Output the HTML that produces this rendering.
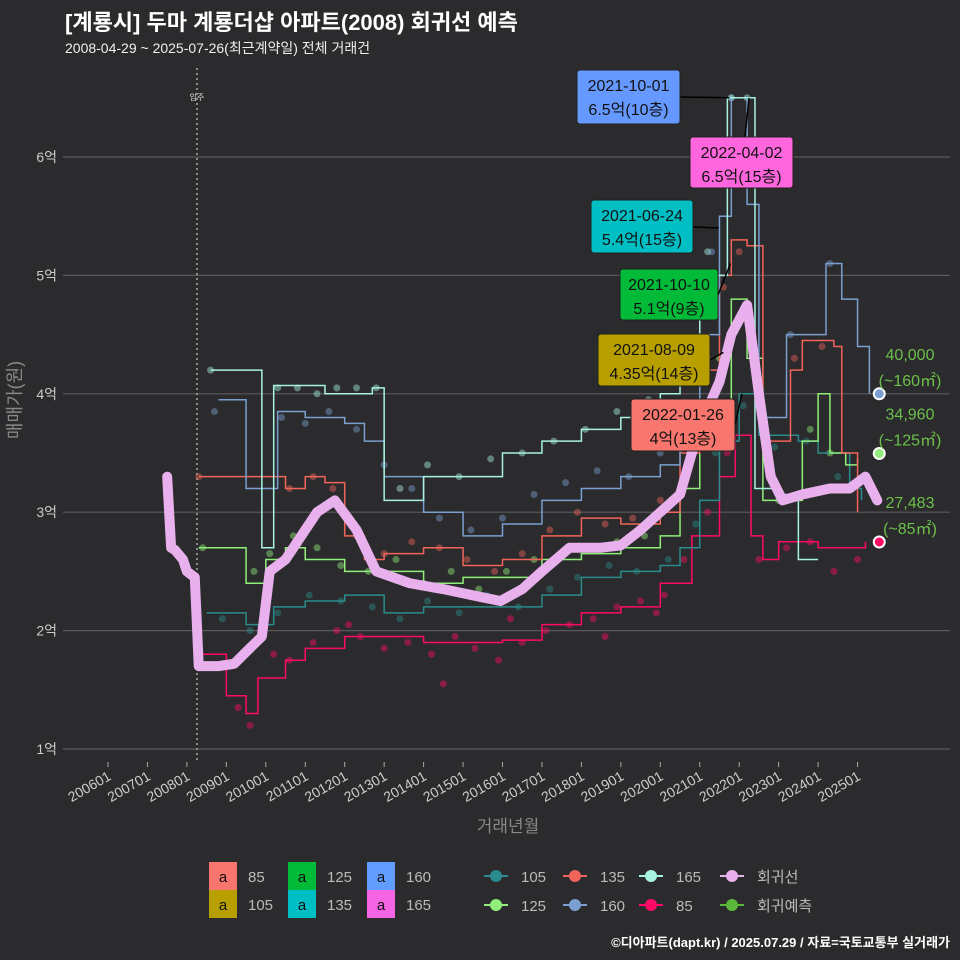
<!DOCTYPE html>
<html><head><meta charset="utf-8">
<style>
body{margin:0;background:#2b2b2d;}
svg{display:block;font-family:"Liberation Sans","Noto Sans CJK KR",sans-serif;}
</style></head>
<body>
<svg id="chart" width="960" height="960" viewBox="0 0 960 960">
<rect width="960" height="960" fill="#2b2b2d"/>
<text x="65" y="30" fill="#fff" font-size="22" font-weight="bold">[계룡시] 두마 계룡더샵 아파트(2008) 회귀선 예측</text>
<text x="65" y="53" fill="#eee" font-size="14">2008-04-29 ~ 2025-07-26(최근계약일) 전체 거래건</text>
<g id="grid"></g>
<g id="yticks"></g>
<g id="xticks"></g>
<text transform="translate(21,400) rotate(-90)" text-anchor="middle" fill="#888" font-size="18">매매가(원)</text>
<text x="508" y="832" text-anchor="middle" fill="#888" font-size="17">거래년월</text>
<line x1="197" y1="68" x2="197" y2="760" stroke="#aaa" stroke-width="1.5" stroke-dasharray="2,3"/>
<text x="197" y="100" text-anchor="middle" fill="#ddd" font-size="8">입주</text>
<g id="dots"></g>
<g id="lines"></g>
<g id="reg"></g>
<g id="ann"></g>
<g id="legend"></g>
<text x="950" y="947" text-anchor="end" fill="#fff" font-size="13" font-weight="bold">©디아파트(dapt.kr) / 2025.07.29 / 자료=국토교통부 실거래가</text>
</svg>
<script>
const yTicks=[1,2,3,4,5,6];
const yTickLabels=["1억","2억","3억","4억","5억","6억"];
const xTicks=[2006,2007,2008,2009,2010,2011,2012,2013,2014,2015,2016,2017,2018,2019,2020,2021,2022,2023,2024,2025];
const xTickLabels=["200601","200701","200801","200901","201001","201101","201201","201301","201401","201501","201601","201701","201801","201901","202001","202101","202201","202301","202401","202501"];

const regX=[2007.5,2007.6,2007.7,2007.9,2008.0,2008.2,2008.3,2008.8,2009.2,2009.5,2009.9,2010.1,2010.5,2011.0,2011.3,2011.75,2012.3,2012.8,2013.65,2014.5,2015.5,2015.95,2016.5,2017.0,2017.7,2018.5,2019.0,2019.5,2020.0,2020.5,2020.8,2021.1,2021.5,2021.8,2022.2,2022.5,2022.8,2023.1,2023.6,2024.3,2024.8,2025.2,2025.5];
const regY=[3.3,2.7,2.68,2.6,2.5,2.45,1.7,1.7,1.72,1.82,1.95,2.5,2.6,2.85,3.0,3.1,2.85,2.5,2.4,2.35,2.28,2.25,2.35,2.5,2.7,2.7,2.72,2.85,3.0,3.15,3.5,3.8,4.1,4.5,4.75,4.0,3.3,3.1,3.15,3.2,3.2,3.3,3.1];

const sNames=["85","105","125","135","160","165"];
const sColors=["#ff0a66","#2a8c8c","#90ee7a","#f0645a","#7a9fd0","#a8f2e2"];
const l85X=[2008.4,2009.0,2009.5,2009.8,2010.5,2011,2012,2013,2014,2015,2016,2017,2018,2019,2020,2020.8,2021.5,2021.9,2022.3,2022.6,2023,2023.5,2024,2024.5,2025.2];
const l85Y=[1.8,1.45,1.3,1.6,1.75,1.85,1.95,1.95,1.9,1.9,1.92,2.05,2.15,2.2,2.4,2.8,3.3,3.65,2.8,2.6,2.75,2.75,2.7,2.7,2.75];
const l105X=[2008.5,2009.5,2010.2,2011,2012,2013,2014,2015,2016,2017,2018,2019,2020,2020.5,2021,2021.5,2022,2022.5,2023,2023.5,2024,2024.8,2025.1];
const l105Y=[2.15,2.05,2.2,2.25,2.3,2.15,2.2,2.2,2.2,2.3,2.45,2.5,2.55,2.7,3.1,3.6,4.0,3.65,3.65,3.6,3.5,3.2,3.1];
const l125X=[2008.3,2009.5,2010,2010.5,2011,2012,2013,2014,2015,2016,2017,2018,2019,2020,2020.5,2021,2021.8,2022.2,2022.6,2023,2023.6,2024,2024.3,2024.7,2025];
const l125Y=[2.7,2.4,2.6,2.7,2.6,2.5,2.5,2.4,2.45,2.45,2.6,2.65,2.7,2.8,3.2,3.8,4.8,4.3,3.1,3.1,3.6,4.0,3.5,3.4,3.45];
const l135X=[2008.3,2010.5,2011,2011.5,2012,2012.5,2013,2014,2015,2016,2017,2018,2019,2020,2020.5,2021,2021.5,2021.8,2022.2,2022.6,2023,2023.3,2023.6,2024,2024.4,2024.6,2025];
const l135Y=[3.3,3.2,3.3,3.25,2.8,2.6,2.65,2.7,2.55,2.6,2.8,2.95,2.9,3.0,3.5,4.2,5.0,5.3,5.25,3.6,3.6,4.2,4.45,4.45,4.4,3.5,3.0];
const l160X=[2008.8,2009.5,2010.3,2011,2012,2012.5,2013,2014,2015,2016,2017,2018,2019,2020,2020.5,2021,2021.5,2021.8,2022.2,2022.5,2023.2,2023.8,2024.2,2024.6,2025,2025.3];
const l160Y=[3.95,3.2,3.85,3.8,3.75,3.6,3.3,3.0,2.8,2.9,3.1,3.2,3.3,3.4,3.9,4.5,5.5,6.5,5.6,3.8,4.5,4.5,5.1,4.8,4.4,4.0];
const l165X=[2008.6,2009.9,2010.2,2011.5,2012,2012.7,2013,2014,2015,2016,2017,2018,2019,2020,2020.5,2021,2021.7,2022.1,2022.4,2023,2023.5,2024];
const l165Y=[4.2,2.7,4.07,4.0,4.0,4.05,3.1,3.3,3.3,3.5,3.6,3.7,3.8,4.0,4.3,5.0,6.5,6.5,3.2,3.15,2.6,2.6];

const d85X=[2009.3,2009.6,2010.2,2010.6,2011.2,2011.8,2012.4,2013.0,2013.6,2014.2,2014.8,2015.3,2015.9,2016.5,2017.1,2017.7,2018.3,2018.9,2019.5,2020.1,2020.6,2021.2,2021.7,2022.5,2023.2,2023.8,2024.4,2025.0,2012.1,2014.5,2016.2,2018.6,2019.9];
const d85Y=[1.35,1.2,1.8,1.75,1.9,2.0,1.95,1.85,1.9,1.8,1.95,1.85,1.75,1.9,2.0,2.05,2.1,2.2,2.25,2.3,2.6,3.0,3.5,2.6,2.7,2.75,2.5,2.6,2.05,1.55,2.1,1.95,2.15];
const d105X=[2008.9,2009.6,2010.3,2011.1,2011.9,2012.7,2013.4,2014.1,2014.9,2015.6,2016.4,2017.2,2017.9,2018.7,2019.4,2020.2,2020.9,2021.4,2022.1,2022.9,2023.7,2024.5];
const d105Y=[2.1,2.0,2.15,2.3,2.25,2.2,2.1,2.25,2.15,2.3,2.2,2.35,2.45,2.55,2.5,2.6,2.9,3.5,3.9,3.55,3.6,3.3];
const d125X=[2008.4,2009.7,2010.1,2010.7,2011.3,2011.9,2012.6,2013.3,2014.0,2014.7,2015.4,2016.1,2016.8,2017.5,2018.2,2018.9,2019.6,2020.3,2020.9,2021.5,2022.0,2023.0,2023.8,2024.3];
const d125Y=[2.7,2.5,2.65,2.8,2.7,2.55,2.5,2.6,2.4,2.5,2.35,2.5,2.6,2.65,2.7,2.75,2.8,3.1,3.6,4.3,4.6,3.1,3.7,3.5];
const d135X=[2008.3,2010.6,2011.2,2011.7,2012.3,2013.0,2013.7,2014.4,2015.1,2015.8,2016.5,2017.2,2017.9,2018.6,2019.3,2020.0,2020.7,2021.2,2021.6,2022.0,2023.4,2024.1];
const d135Y=[3.3,3.2,3.3,3.2,2.8,2.65,2.75,2.7,2.6,2.5,2.65,2.85,3.0,2.9,2.95,3.1,3.6,4.3,4.9,5.2,4.3,4.4];
const d160X=[2008.7,2010.4,2011.0,2011.6,2012.3,2013.0,2013.7,2014.4,2015.2,2016.0,2016.8,2017.6,2018.4,2019.2,2020.0,2020.8,2021.3,2021.8,2022.6,2023.3,2024.3];
const d160Y=[3.85,3.8,3.75,3.85,3.7,3.4,3.2,2.95,2.85,2.95,3.15,3.25,3.35,3.3,3.5,4.1,5.2,6.5,3.8,4.5,5.1];
const d165X=[2008.6,2010.3,2010.8,2011.3,2011.8,2012.3,2012.8,2013.4,2014.1,2014.9,2015.7,2016.5,2017.3,2018.1,2018.9,2019.7,2020.5,2021.2,2021.8,2022.2];
const d165Y=[4.2,4.05,4.05,4.0,4.05,4.05,4.05,3.2,3.4,3.3,3.45,3.5,3.6,3.7,3.85,3.95,4.3,5.2,6.5,6.5];

const lineX=[l85X,l105X,l125X,l135X,l160X,l165X];
const lineY=[l85Y,l105Y,l125Y,l135Y,l160Y,l165Y];
const dotX=[d85X,d105X,d125X,d135X,d160X,d165X];
const dotY=[d85Y,d105Y,d125Y,d135Y,d160Y,d165Y];

const annDates=["2021-10-01","2022-04-02","2021-06-24","2021-10-10","2021-08-09","2022-01-26"];
const annTexts=["6.5억(10층)","6.5억(15층)","5.4억(15층)","5.1억(9층)","4.35억(14층)","4억(13층)"];
const annYear=[2021.75,2022.25,2021.48,2021.78,2021.6,2022.07];
const annVal=[6.5,6.5,5.4,5.1,4.35,4.0];
const predVal=[4.0,3.496,2.7483];
const predLbl=["40,000","34,960","27,483"];
const predArea=["(~160㎡)","(~125㎡)","(~85㎡)"];
const predYear=2025.55;

const NS="http://www.w3.org/2000/svg";
function xs(t){return 108+(t-2006)*39.45;}
function ys(v){return 749-(v-1)*118.4;}
function mk(tag,attrs,parent,txt){const e=document.createElementNS(NS,tag);for(const k in attrs)e.setAttribute(k,attrs[k]);if(txt!==undefined)e.textContent=txt;parent.appendChild(e);return e;}
const G=id=>document.getElementById(id);

yTicks.forEach((v,i)=>{
  const l=mk('line',{x1:63,x2:950,y1:ys(v),y2:ys(v),stroke:'#5a5a5c','stroke-width':1.2},G('grid'));
  
  
  const t=mk('text',{x:57,y:ys(v)+5,'text-anchor':'end',fill:'#ccc','font-size':14},G('yticks'),yTickLabels[i]);
  
  
});
xTicks.forEach((v,i)=>{
  const x=xs(v);
  const l=mk('line',{x1:x,x2:x,y1:762,y2:767,stroke:'#aaa'},G('xticks'));
  
  
  const t=mk('text',{x:x+4,y:779,'text-anchor':'end',fill:'#ccc','font-size':14,transform:`rotate(-30 ${x+4} 779)`},G('xticks'),xTickLabels[i]);
  
  
});
dotX.forEach((arr,s)=>{arr.forEach((t,i)=>{
  const c=mk('circle',{cx:xs(t),cy:ys(dotY[s][i]),r:3.5,fill:sColors[s],'fill-opacity':0.45},G('dots'));
  
  
});});
lineX.forEach((arr,s)=>{
  let d='';arr.forEach((t,i)=>{const x=xs(t),y=ys(lineY[s][i]);if(i==0)d='M'+x+','+y;else d+=' H'+x+' V'+y;});
  const p=mk('path',{d:d,fill:'none',stroke:sColors[s],'stroke-width':1.5},G('lines'));
  
  
});
{
  const d=regX.map((t,i)=>(i?'L':'M')+xs(t)+','+ys(regY[i])).join(' ');
  const p=mk('path',{d:d,fill:'none',stroke:'#e8b0ec','stroke-width':10,'stroke-linejoin':'round','stroke-linecap':'round'},G('reg'));
  
  
}
const annFill=["#6699ff","#ff66dd","#00bfc4","#00ba38","#b79f00","#f8766d"];
const annBox=[[577,70,103,54],[690,137,103,51],[591,200,102,53],[620,269,98,51],[598,334,112,52],[631,399,104,52]];
const annLineStart=[[680,97],[745,137],[693,227],[718,295],[710,360],[735,425]];
annDates.forEach((d,i)=>{
  const b=annBox[i];
  const ln=mk('line',{x1:annLineStart[i][0],y1:annLineStart[i][1],x2:xs(annYear[i]),y2:ys(annVal[i]),stroke:'#000','stroke-width':1.5},G('ann'));
  
  
  const r=mk('rect',{x:b[0],y:b[1],width:b[2],height:b[3],rx:3,fill:annFill[i],stroke:'#222'},G('ann'));
  
  
  const t1=mk('text',{x:b[0]+b[2]/2,y:b[1]+21,'text-anchor':'middle',fill:'#111','font-size':16},G('ann'),d);
  
  
  const t2=mk('text',{x:b[0]+b[2]/2,y:b[1]+45,'text-anchor':'middle',fill:'#111','font-size':16},G('ann'),annTexts[i]);
  
  
});
const predCol=["#7a9fd0","#90ee7a","#ff0a66"];
predVal.forEach((v,i)=>{
  const c=mk('circle',{cx:xs(predYear),cy:ys(v),r:5.5,fill:predCol[i],stroke:'#fff','stroke-width':2},G('ann'));
  
  
  const y=ys(v);
  const t1=mk('text',{x:910,y:y-34,'text-anchor':'middle',fill:'#6cbf4a','font-size':16},G('ann'),predLbl[i]);
  
  
  const t2=mk('text',{x:910,y:y-8,'text-anchor':'middle',fill:'#6cbf4a','font-size':16},G('ann'),predArea[i]);
  
  
});
// legend
const lgBox=[["85","#f8766d",209,862],["105","#b79f00",209,890],["125","#00ba38",288,862],["135","#00bfc4",288,890],["160","#619cff",367,862],["165","#f564e3",367,890]];
lgBox.forEach(b=>{
  const r=mk('rect',{x:b[2],y:b[3],width:28,height:28,fill:b[1]},G('legend'));
  
  
  mk('text',{x:b[2]+14,y:b[3]+20,'text-anchor':'middle',fill:'#111','font-size':15},G('legend'),'a');
  const t=mk('text',{x:b[2]+39,y:b[3]+20,fill:'#bbb','font-size':15},G('legend'),b[0]);
  
  
});
const lgLine=[["105","#2a8c8c",496,876],["125","#90ee7a",496,905],["135","#f0645a",575,876],["160","#7a9fd0",575,905],["165","#a8f2e2",651,876],["85","#ff0a66",651,905],["회귀선","#e8b0ec",732,876],["회귀예측","#5cb83c",732,905]];
lgLine.forEach(b=>{
  const x=b[2];
  const l=mk('line',{x1:x-12,x2:x+12,y1:b[3],y2:b[3],stroke:b[1],'stroke-width':2},G('legend'));
  
  
  mk('circle',{cx:x,cy:b[3],r:6,fill:b[1]},G('legend'));
  const t=mk('text',{x:x+25,y:b[3]+6,fill:'#bbb','font-size':15},G('legend'),b[0]);
  
  
});
</script>
</body></html>
